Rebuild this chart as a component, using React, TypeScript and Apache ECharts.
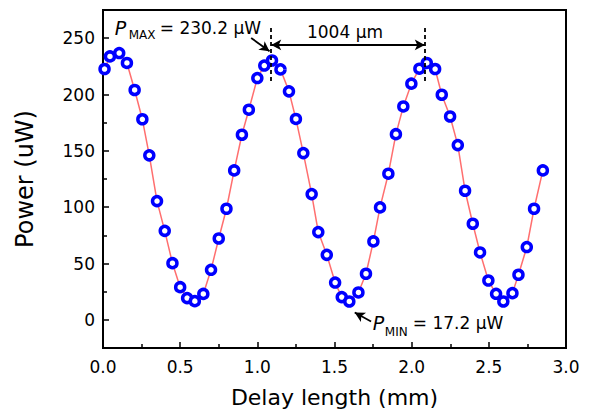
import React, { useEffect, useRef } from 'react';
import * as echarts from 'echarts';

const FONT = 'DejaVu Sans';

// Delay length (mm)
const xValues = [
  0.01, 0.045, 0.105, 0.155, 0.205, 0.255, 0.3, 0.35, 0.4, 0.45, 0.5,
  0.545, 0.595, 0.65, 0.7, 0.75, 0.8, 0.85, 0.9,
  0.945, 1.0, 1.045, 1.095, 1.15, 1.205, 1.25,
  1.298, 1.352, 1.395, 1.45, 1.504, 1.547, 1.596, 1.655, 1.704, 1.752, 1.795, 1.849,
  1.898, 1.946, 1.998, 2.05, 2.098, 2.152, 2.195, 2.249,
  2.299, 2.346, 2.396, 2.443, 2.497, 2.547, 2.594, 2.653, 2.692, 2.746, 2.793, 2.85,
];

// Power (uW)
const powerValues = [
  222.6, 233.8, 236.8, 228, 204, 178, 146, 105.4, 79, 50.3, 29,
  19.3, 16.6, 23, 44.4, 72.2, 98.6, 132.6, 164.3,
  186.5, 214.6, 225.7, 230.2, 222.3, 202.8, 178.3,
  148, 111.6, 77.9, 57.7, 33.1, 20.2, 16.3, 24.3, 40.9, 69.6, 99.8, 129.7,
  164.8, 189.4, 209.6, 222.9, 228, 222.6, 199.8, 180.5,
  155.1, 114.6, 85.3, 59.8, 34.9, 23.1, 16.3, 23.7, 40, 64.6, 98.6, 132.6,
];

const yMajorTicks = [0, 50, 100, 150, 200, 250];
const yMinorTicks = [25, 75, 125, 175, 225];

// Annotation anchors (data coordinates)
const peakLineX = [1.09, 2.085];
const dashTop = 259;
const dashBottom = 210;
const spanArrowY = 244;
const maxArrow = [[0.96, 250.2], [1.079, 238.3]];
const minArrow = [[1.737, -1.5], [1.631, 6.5]];
const maxLabelAt = [0.076, 258.9];
const spanLabelAt = [1.568, 255.5];
const minLabelAt = [1.748, -2.7];

function txt(x: number, y: number, text: string, size: number, extra: any = {}) {
  return {
    type: 'text',
    x,
    y,
    silent: true,
    style: {
      text,
      fill: '#000',
      fontSize: size,
      fontFamily: FONT,
      align: extra.align || 'left',
      textAlign: extra.align || 'left',
      verticalAlign: 'middle',
      textVerticalAlign: 'middle',
      fontStyle: extra.fontStyle || 'normal',
    },
  };
}

export default function App() {
  const ref = useRef<HTMLDivElement>(null);

  useEffect(() => {
    const chart = echarts.init(ref.current!, null, { renderer: 'svg' });
    const data = xValues.map((x, i) => [x, powerValues[i]]);
    const black = '#000';

    chart.setOption({
      animation: false,
      grid: {
        left: 103,
        right: 27,
        top: 10,
        bottom: 66,
        show: true,
        borderColor: black,
        borderWidth: 2,
        backgroundColor: 'transparent',
      },
      xAxis: {
        type: 'value',
        min: 0,
        max: 3,
        interval: 0.5,
        name: 'Delay length (mm)',
        nameLocation: 'middle',
        nameGap: 38,
        nameTextStyle: { fontSize: 22, color: black, fontFamily: FONT },
        axisLine: { show: true, onZero: false, lineStyle: { color: black, width: 2 } },
        axisTick: { show: true, inside: true, length: 6, lineStyle: { color: black, width: 1.5 } },
        minorTick: { show: true, splitNumber: 2, length: 4, lineStyle: { color: black, width: 1.5 } },
        axisLabel: {
          fontSize: 17,
          color: black,
          margin: 10,
          fontFamily: FONT,
          formatter: (v: number) => v.toFixed(1),
        },
        splitLine: { show: false },
      },
      yAxis: [
        {
          type: 'value',
          min: -25,
          max: 275,
          name: 'Power (uW)',
          nameLocation: 'middle',
          nameGap: 66,
          nameTextStyle: { fontSize: 24, color: black, fontFamily: FONT },
          axisLine: { show: true, onZero: false, lineStyle: { color: black, width: 2 } },
          axisTick: {
            show: true,
            inside: true,
            length: 6,
            customValues: yMajorTicks,
            lineStyle: { color: black, width: 1.5 },
          },
          axisLabel: {
            fontSize: 17,
            color: black,
            margin: 8,
            fontFamily: FONT,
            customValues: yMajorTicks,
          },
          splitLine: { show: false },
        },
        {
          type: 'value',
          min: -25,
          max: 275,
          position: 'left',
          axisLine: { show: false },
          axisTick: {
            show: true,
            inside: true,
            length: 4,
            customValues: yMinorTicks,
            lineStyle: { color: black, width: 1.5 },
          },
          axisLabel: { show: false },
          splitLine: { show: false },
        },
      ],
      series: [
        {
          type: 'line',
          data,
          clip: false,
          showAllSymbol: true,
          symbol: 'circle',
          symbolSize: 9,
          lineStyle: { color: '#ff6f6f', width: 1.5 },
          itemStyle: { color: '#fff', borderColor: '#0000ff', borderWidth: 3.5 },
          z: 3,
          markLine: {
            silent: true,
            animation: false,
            label: { show: false },
            symbolSize: [8, 10],
            data: [
              [
                { coord: [peakLineX[0], dashTop], symbol: 'none', lineStyle: { type: [4, 3], color: black, width: 1.8 } },
                { coord: [peakLineX[0], dashBottom], symbol: 'none' },
              ],
              [
                { coord: [peakLineX[1], dashTop], symbol: 'none', lineStyle: { type: [4, 3], color: black, width: 1.8 } },
                { coord: [peakLineX[1], dashBottom], symbol: 'none' },
              ],
              [
                { coord: [peakLineX[0], spanArrowY], symbol: 'arrow', lineStyle: { type: 'solid', color: black, width: 2 } },
                { coord: [peakLineX[1], spanArrowY], symbol: 'arrow' },
              ],
              [
                { coord: maxArrow[0], symbol: 'none', lineStyle: { type: 'solid', color: black, width: 1.8 } },
                { coord: maxArrow[1], symbol: 'arrow' },
              ],
              [
                { coord: minArrow[0], symbol: 'none', lineStyle: { type: 'solid', color: black, width: 1.8 } },
                { coord: minArrow[1], symbol: 'arrow' },
              ],
            ],
          },
        },
      ],
    });

    const toPx = (p: number[]) => chart.convertToPixel({ gridIndex: 0 }, p) as number[];
    const pMax = toPx(maxLabelAt);
    const pSpan = toPx(spanLabelAt);
    const pMin = toPx(minLabelAt);

    chart.setOption({
      graphic: [
        {
          type: 'group',
          x: pMax[0],
          y: pMax[1],
          children: [
            txt(0, 0, 'P', 19, { fontStyle: 'italic' }),
            txt(14, 7, 'MAX', 12),
            txt(45, 0, '= 230.2 μW', 17),
          ],
        },
        txt(pSpan[0], pSpan[1], '1004 μm', 17, { align: 'center' }),
        {
          type: 'group',
          x: pMin[0],
          y: pMin[1],
          children: [
            txt(0, 0, 'P', 19, { fontStyle: 'italic' }),
            txt(12, 9, 'MIN', 12),
            txt(40, 0, '= 17.2 μW', 17),
          ],
        },
      ],
    });

    return () => chart.dispose();
  }, []);

  return (
    <div
      ref={ref}
      style={{ position: 'fixed', left: 0, top: 0, width: 593, height: 414, background: '#fff' }}
    />
  );
}
